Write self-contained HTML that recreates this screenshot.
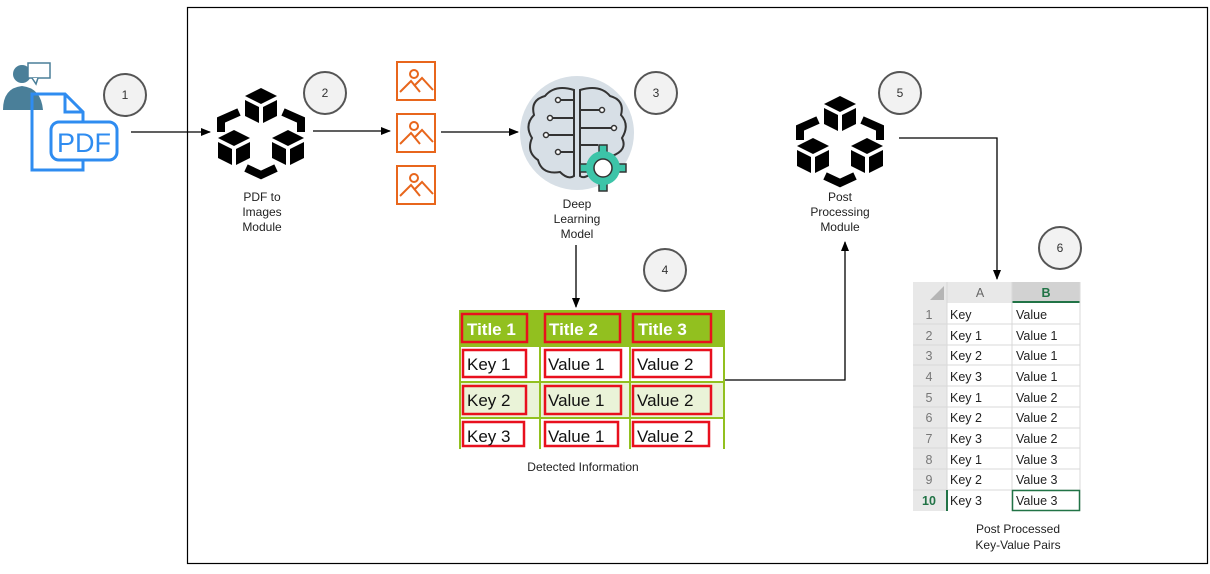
<!DOCTYPE html>
<html><head><meta charset="utf-8"><style>
body{margin:0;background:#fff;width:1210px;height:569px;overflow:hidden;font-family:"Liberation Sans",sans-serif}
svg text{font-family:"Liberation Sans",sans-serif}
</style></head><body>
<svg width="1210" height="569" viewBox="0 0 1210 569" xmlns="http://www.w3.org/2000/svg">
<defs>
<marker id="ar" markerWidth="10" markerHeight="10" refX="9" refY="5" orient="auto" markerUnits="userSpaceOnUse"><path d="M0,1 L10,5 L0,9 Z" fill="#000"/></marker>
<g id="cube">
<polygon points="0,-16 16,-8 0,0 -16,-8" fill="#000"/>
<polygon points="-16,-4 -2,3 -2,19 -16,12" fill="#000"/>
<polygon points="2,3 16,-4 16,12 2,19" fill="#000"/>
</g>
<g id="mod">
<use href="#cube" x="0" y="-28"/>
<use href="#cube" x="-27" y="14"/>
<use href="#cube" x="27" y="14"/>
<polyline points="-22,-20 -40,-12 -40,0" fill="none" stroke="#000" stroke-width="8"/>
<polyline points="22,-20 40,-12 40,0" fill="none" stroke="#000" stroke-width="8"/>
<polyline points="-15,36 0,43 15,36" fill="none" stroke="#000" stroke-width="8"/>
</g>
<g id="img">
<rect x="0" y="0" width="38" height="38" fill="none" stroke="#e8661c" stroke-width="2"/>
<circle cx="17" cy="12" r="4" fill="none" stroke="#e8661c" stroke-width="2"/>
<polyline points="3,30 14,19 23,30" fill="none" stroke="#e8661c" stroke-width="2"/>
<polyline points="17,24 25,16 36,28" fill="none" stroke="#e8661c" stroke-width="2"/>
</g>
</defs>
<rect x="187.5" y="7.5" width="1020" height="556" fill="none" stroke="#000" stroke-width="1.2"/>

<!-- user + pdf -->
<circle cx="22" cy="74" r="9" fill="#4a7f99"/>
<path d="M3,110 Q3,88 22,86 Q41,88 43,110 Z" fill="#4a7f99"/>
<rect x="28" y="63" width="22" height="15" fill="#fff" stroke="#4a7f99" stroke-width="1.5"/>
<path d="M32,78 L36,84 L38,78" fill="#fff" stroke="#4a7f99" stroke-width="1.5"/>
<path d="M32,94 L65,94 L83,112 L83,170 L32,170 Z" fill="none" stroke="#2f8cf0" stroke-width="3"/>
<path d="M65,94 L65,112 L83,112" fill="none" stroke="#2f8cf0" stroke-width="3"/>
<rect x="51" y="122" width="66" height="38" rx="8" fill="#fff" stroke="#2f8cf0" stroke-width="3"/>
<text x="84" y="152" font-size="27" fill="#2f8cf0" text-anchor="middle">PDF</text>

<!-- circles -->
<g fill="#f2f2f2" stroke="#555" stroke-width="2">
<circle cx="125" cy="95" r="21"/><circle cx="325" cy="93" r="21"/><circle cx="656" cy="93" r="21"/>
<circle cx="665" cy="270" r="21"/><circle cx="900" cy="93" r="21"/><circle cx="1060" cy="248" r="21"/>
</g>
<g font-size="12" text-anchor="middle" fill="#333">
<text x="125" y="99">1</text><text x="325" y="97">2</text><text x="656" y="97">3</text>
<text x="665" y="274">4</text><text x="900" y="97">5</text><text x="1060" y="252">6</text>
</g>

<!-- arrows -->
<g stroke="#000" stroke-width="1.3" fill="none" marker-end="url(#ar)">
<line x1="131" y1="132" x2="210" y2="132"/>
<line x1="313" y1="131" x2="390" y2="131"/>
<line x1="441" y1="132" x2="518" y2="132"/>
<line x1="576" y1="245" x2="576" y2="307"/>
<polyline points="724,380 845,380 845,242"/>
<polyline points="899,138 997,138 997,279"/>
</g>

<use href="#mod" x="261" y="132"/>
<use href="#mod" x="840" y="140"/>
<g font-size="12" text-anchor="middle" fill="#222">
<text x="262" y="201">PDF to</text><text x="262" y="216">Images</text><text x="262" y="231">Module</text>
<text x="577" y="208">Deep</text><text x="577" y="223">Learning</text><text x="577" y="238">Model</text>
<text x="840" y="201">Post</text><text x="840" y="216">Processing</text><text x="840" y="231">Module</text>
<text x="583" y="471">Detected Information</text>
<text x="1018" y="533">Post Processed</text><text x="1018" y="549">Key-Value Pairs</text>
</g>

<use href="#img" x="397" y="62"/>
<use href="#img" x="397" y="114"/>
<use href="#img" x="397" y="166"/>

<!-- brain -->
<circle cx="577" cy="133" r="57" fill="#d7dfe6"/>
<g fill="none" stroke="#333" stroke-width="2">
<path d="M574,90 Q555,84 545,96 Q530,100 534,115 Q524,125 532,138 Q526,152 538,160 Q542,175 560,172 Q568,180 574,176 Z"/>
<path d="M580,90 Q600,84 610,96 Q625,100 621,115 Q630,125 622,138 Q628,150 612,156 L595,170 Q585,180 580,176 Z"/>
<path d="M574,100 L560,100 M574,118 L552,118 M574,135 L548,135 M574,152 L560,152 M580,110 L600,110 M580,128 L612,128 M580,145 L598,145"/>
</g>
<g fill="#fff" stroke="#333" stroke-width="1.5">
<circle cx="558" cy="100" r="2.5"/><circle cx="550" cy="118" r="2.5"/><circle cx="546" cy="135" r="2.5"/><circle cx="558" cy="152" r="2.5"/>
<circle cx="602" cy="110" r="2.5"/><circle cx="614" cy="128" r="2.5"/>
</g>
<g transform="translate(603,168)">
<g fill="#3cc4a8" stroke="#333" stroke-width="1.5">
<rect x="-4" y="-23" width="8" height="8"/><rect x="-4" y="15" width="8" height="8"/>
<rect x="-23" y="-4" width="8" height="8"/><rect x="15" y="-4" width="8" height="8"/>
</g>
<circle r="17" fill="#3cc4a8"/>
<circle r="9" fill="#fff" stroke="#333" stroke-width="1.5"/>
</g>

<!-- detected table -->
<rect x="460" y="310" width="264" height="36" fill="#92c01f"/>
<rect x="460" y="382" width="264" height="36" fill="#eaf3d8"/>
<g stroke="#92c01f" stroke-width="2">
<line x1="460" y1="310" x2="460" y2="449"/><line x1="540" y1="310" x2="540" y2="449"/>
<line x1="630" y1="310" x2="630" y2="449"/><line x1="724" y1="310" x2="724" y2="449"/>
<line x1="460" y1="346" x2="724" y2="346"/><line x1="460" y1="382" x2="724" y2="382"/><line x1="460" y1="418" x2="724" y2="418"/>
</g>
<g fill="none" stroke="#e8101e" stroke-width="2.5">
<rect x="462" y="314" width="65" height="28"/><rect x="545" y="314" width="75" height="28"/><rect x="633" y="314" width="78" height="28"/>
<rect x="463" y="350" width="63" height="27"/><rect x="545" y="350" width="76" height="27"/><rect x="633" y="350" width="78" height="27"/>
<rect x="463" y="386" width="63" height="28"/><rect x="545" y="386" width="76" height="28"/><rect x="633" y="386" width="78" height="28"/>
<rect x="463" y="422" width="61" height="24"/><rect x="545" y="422" width="73" height="24"/><rect x="633" y="422" width="76" height="24"/>
</g>
<g font-size="17" fill="#111">
<text x="467" y="335" fill="#fff" font-weight="bold">Title 1</text><text x="549" y="335" fill="#fff" font-weight="bold">Title 2</text><text x="638" y="335" fill="#fff" font-weight="bold">Title 3</text>
<text x="467" y="370">Key 1</text><text x="548" y="370">Value 1</text><text x="637" y="370">Value 2</text>
<text x="467" y="406">Key 2</text><text x="548" y="406">Value 1</text><text x="637" y="406">Value 2</text>
<text x="467" y="442">Key 3</text><text x="548" y="442">Value 1</text><text x="637" y="442">Value 2</text>
</g>

<!-- spreadsheet -->
<rect x="913" y="282" width="167" height="229" fill="#fff"/>
<rect x="913" y="282" width="167" height="21" fill="#e8e8e8"/>
<rect x="913" y="282" width="34" height="229" fill="#e8e8e8"/>
<rect x="1012" y="282" width="68" height="21" fill="#d2d2d2"/>
<line x1="1012" y1="302" x2="1080" y2="302" stroke="#217346" stroke-width="2"/>
<polygon points="944,286 944,300 930,300" fill="#b5b5b5"/>
<g stroke="#d9d9d9" stroke-width="1">
<line x1="947" y1="282" x2="947" y2="511"/><line x1="1012" y1="282" x2="1012" y2="511"/><line x1="1080" y1="282" x2="1080" y2="511"/>
<line x1="913" y1="324" x2="1080" y2="324"/><line x1="913" y1="345" x2="1080" y2="345"/><line x1="913" y1="365" x2="1080" y2="365"/>
<line x1="913" y1="386" x2="1080" y2="386"/><line x1="913" y1="407" x2="1080" y2="407"/><line x1="913" y1="428" x2="1080" y2="428"/>
<line x1="913" y1="448" x2="1080" y2="448"/><line x1="913" y1="469" x2="1080" y2="469"/><line x1="913" y1="490" x2="1080" y2="490"/>
</g>
<rect x="1012.5" y="490.5" width="67" height="20" fill="none" stroke="#217346" stroke-width="1.5"/>
<line x1="947" y1="490" x2="947" y2="511" stroke="#217346" stroke-width="2"/>
<g font-size="12.5" fill="#222">
<text x="980" y="297" text-anchor="middle" fill="#666">A</text>
<text x="1046" y="297" text-anchor="middle" fill="#217346" font-weight="bold">B</text>
<g text-anchor="middle" fill="#777">
<text x="929" y="319">1</text><text x="929" y="340">2</text><text x="929" y="360">3</text><text x="929" y="381">4</text>
<text x="929" y="402">5</text><text x="929" y="422">6</text><text x="929" y="443">7</text><text x="929" y="464">8</text>
<text x="929" y="484">9</text><text x="929" y="505" fill="#217346" font-weight="bold">10</text>
</g>
<text x="950" y="319">Key</text><text x="1016" y="319">Value</text>
<text x="950" y="340">Key 1</text><text x="1016" y="340">Value 1</text>
<text x="950" y="360">Key 2</text><text x="1016" y="360">Value 1</text>
<text x="950" y="381">Key 3</text><text x="1016" y="381">Value 1</text>
<text x="950" y="402">Key 1</text><text x="1016" y="402">Value 2</text>
<text x="950" y="422">Key 2</text><text x="1016" y="422">Value 2</text>
<text x="950" y="443">Key 3</text><text x="1016" y="443">Value 2</text>
<text x="950" y="464">Key 1</text><text x="1016" y="464">Value 3</text>
<text x="950" y="484">Key 2</text><text x="1016" y="484">Value 3</text>
<text x="950" y="505">Key 3</text><text x="1016" y="505">Value 3</text>
</g>
</svg>
</body></html>
